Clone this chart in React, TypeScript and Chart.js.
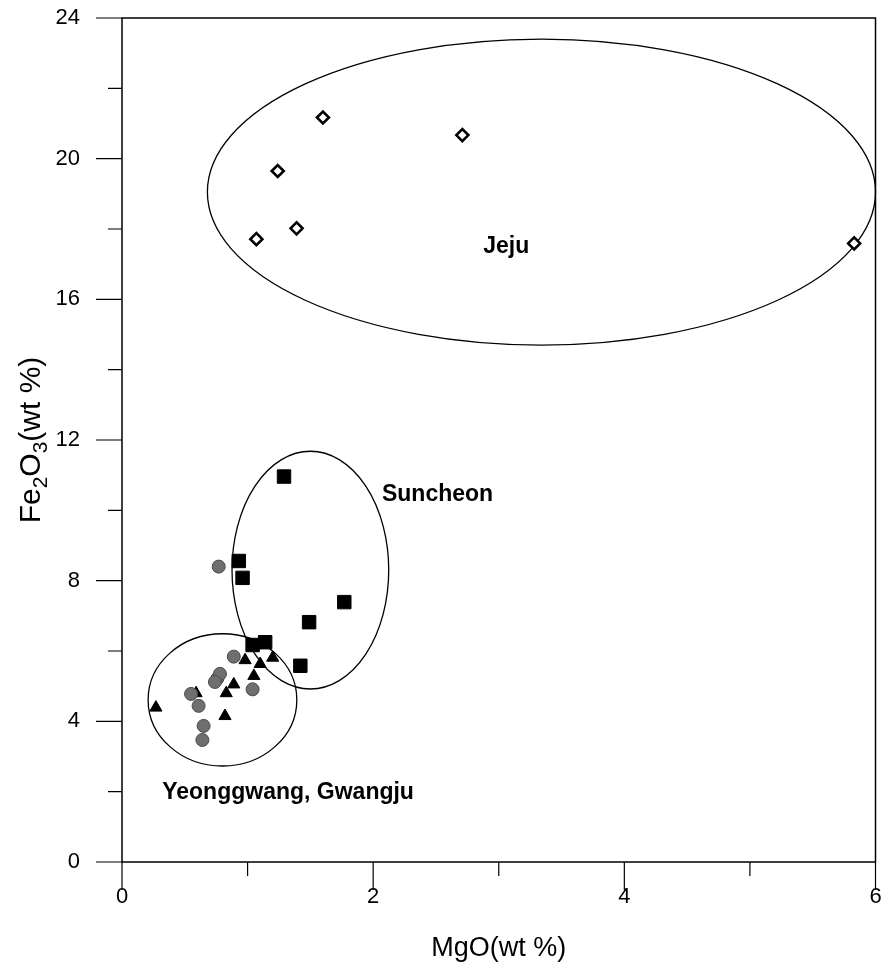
import React, { useEffect, useRef } from 'react';
import { Chart, registerables } from 'chart.js';

Chart.register(...registerables);

// Jeju (open diamonds)
const jejuMgO = [1.60, 2.71, 1.24, 1.39, 1.07, 5.83];
const jejuFe2O3 = [21.17, 20.67, 19.65, 18.02, 17.71, 17.59];
// Suncheon (filled squares)
const suncheonMgO = [1.29, 0.93, 0.96, 1.77, 1.49, 1.04, 1.14, 1.42];
const suncheonFe2O3 = [10.96, 8.56, 8.08, 7.39, 6.82, 6.17, 6.25, 5.58];
// Yeonggwang / Gwangju (grey circles)
const circleMgO = [0.77, 0.89, 0.76, 0.78, 0.74, 1.04, 0.55, 0.61, 0.65, 0.64];
const circleFe2O3 = [8.40, 5.84, 5.22, 5.35, 5.12, 4.91, 4.78, 4.44, 3.87, 3.47];
// Yeonggwang / Gwangju (filled triangles)
const triangleMgO = [0.98, 1.10, 1.20, 1.05, 0.89, 0.83, 0.59, 0.82, 0.27];
const triangleFe2O3 = [5.74, 5.63, 5.81, 5.29, 5.05, 4.80, 4.80, 4.15, 4.39];

// Group ellipses (data units)
const groupNames = ['Jeju', 'Suncheon', 'Yeonggwang, Gwangju'];
const ellipseCenterX = [3.34, 1.50, 0.80];
const ellipseCenterY = [19.05, 8.30, 4.61];
const ellipseRadiusX = [2.66, 0.624, 0.592];
const ellipseRadiusY = [4.35, 3.38, 1.88];
// Group label anchors (data units)
const labelX = [3.06, 2.07, 0.32];
const labelY = [17.49, 10.46, 1.96];
const labelAlign: CanvasTextAlign[] = ['center', 'left', 'left'];

const xTicks = [0, 2, 4, 6];
const yTicks = [0, 4, 8, 12, 16, 20, 24];
const xMinorTicks = [1, 3, 5];
const yMinorTicks = [2, 6, 10, 14, 18, 22];

const FONT = "'Liberation Sans', Arial, sans-serif";

const toPoints = (xs: number[], ys: number[]) => xs.map((x, i) => ({ x, y: ys[i] }));

const zeroPadding = (s: any) => {
  s.paddingTop = 0;
  s.paddingBottom = 0;
  s.paddingLeft = 0;
  s.paddingRight = 0;
};

const decorPlugin = {
  id: 'decor',
  beforeDatasetsDraw(chart: any) {
    const { ctx, scales } = chart;
    const xs = scales.x, ys = scales.y;
    ctx.save();
    ctx.strokeStyle = '#000';
    ctx.lineWidth = 1.3;
    for (let i = 0; i < ellipseCenterX.length; i++) {
      const cx = xs.getPixelForValue(ellipseCenterX[i]);
      const cy = ys.getPixelForValue(ellipseCenterY[i]);
      const rx = Math.abs(xs.getPixelForValue(ellipseCenterX[i] + ellipseRadiusX[i]) - cx);
      const ry = Math.abs(ys.getPixelForValue(ellipseCenterY[i] + ellipseRadiusY[i]) - cy);
      ctx.beginPath();
      ctx.ellipse(cx, cy, rx, ry, 0, 0, Math.PI * 2);
      ctx.stroke();
    }
    ctx.restore();
  },
  afterDraw(chart: any) {
    const { ctx, scales, chartArea } = chart;
    const xs = scales.x, ys = scales.y;
    const { left, right, top, bottom } = chartArea;
    ctx.save();
    ctx.strokeStyle = '#000';
    ctx.lineWidth = 1.5;
    ctx.beginPath();
    ctx.rect(left, top, right - left, bottom - top);
    ctx.stroke();
    ctx.lineWidth = 1.2;
    ctx.beginPath();
    xTicks.forEach((v) => { const p = xs.getPixelForValue(v); ctx.moveTo(p, bottom); ctx.lineTo(p, bottom + 28); });
    xMinorTicks.forEach((v) => { const p = xs.getPixelForValue(v); ctx.moveTo(p, bottom); ctx.lineTo(p, bottom + 14); });
    yTicks.forEach((v) => { const p = ys.getPixelForValue(v); ctx.moveTo(left, p); ctx.lineTo(left - 26, p); });
    yMinorTicks.forEach((v) => { const p = ys.getPixelForValue(v); ctx.moveTo(left, p); ctx.lineTo(left - 14, p); });
    ctx.stroke();

    // group labels
    ctx.fillStyle = '#000';
    ctx.font = `bold 23px ${FONT}`;
    ctx.textBaseline = 'middle';
    groupNames.forEach((name, i) => {
      ctx.textAlign = labelAlign[i];
      ctx.fillText(name, xs.getPixelForValue(labelX[i]), ys.getPixelForValue(labelY[i]));
    });

    // y title with subscripts
    const parts: [string, boolean][] = [['Fe', false], ['2', true], ['O', false], ['3', true], ['(wt %)', false]];
    const big = `30px ${FONT}`, small = `21px ${FONT}`;
    let total = 0;
    parts.forEach(([t, sub]) => { ctx.font = sub ? small : big; total += ctx.measureText(t).width; });
    ctx.translate(30, (top + bottom) / 2);
    ctx.rotate(-Math.PI / 2);
    ctx.textAlign = 'left';
    ctx.textBaseline = 'alphabetic';
    let x = -total / 2;
    parts.forEach(([t, sub]) => {
      ctx.font = sub ? small : big;
      ctx.fillText(t, x, sub ? 17 : 10);
      x += ctx.measureText(t).width;
    });
    ctx.restore();
  },
};

export default function App() {
  const ref = useRef<HTMLCanvasElement | null>(null);
  useEffect(() => {
    if (!ref.current) return;
    const chart = new Chart(ref.current, {
      type: 'scatter',
      data: {
        datasets: [
          {
            label: 'Jeju',
            data: toPoints(jejuMgO, jejuFe2O3),
            pointStyle: 'rectRot',
            pointRadius: 6,
            backgroundColor: '#fff',
            borderColor: '#000',
            borderWidth: 2.6,
          },
          {
            label: 'Suncheon',
            data: toPoints(suncheonMgO, suncheonFe2O3),
            pointStyle: 'rect',
            pointRadius: 9.5,
            backgroundColor: '#000',
            borderColor: '#000',
            borderWidth: 1,
          },
          {
            label: 'Circles',
            data: toPoints(circleMgO, circleFe2O3),
            pointStyle: 'circle',
            pointRadius: 6.5,
            backgroundColor: '#6f6f6f',
            borderColor: '#4a4a4a',
            borderWidth: 1,
          },
          {
            label: 'Triangles',
            data: toPoints(triangleMgO, triangleFe2O3),
            pointStyle: 'triangle',
            pointRadius: 7,
            backgroundColor: '#000',
            borderColor: '#000',
            borderWidth: 1,
          },
        ],
      },
      options: {
        animation: false,
        responsive: true,
        maintainAspectRatio: false,
        layout: { padding: { top: 18, right: 9, left: 0, bottom: 0 } },
        plugins: { legend: { display: false }, tooltip: { enabled: false } },
        scales: {
          x: {
            type: 'linear',
            min: 0,
            max: 6,
            grid: { display: false, drawTicks: false },
            border: { display: false },
            ticks: { stepSize: 2, padding: 22, color: '#000', font: { size: 22, family: FONT } },
            title: { display: true, text: 'MgO(wt %)', color: '#000', font: { size: 27, family: FONT }, padding: { top: 0, bottom: 7 } },
            afterFit: (s: any) => { s.height = 110; zeroPadding(s); },
          },
          y: {
            type: 'linear',
            min: 0,
            max: 24,
            grid: { display: false, drawTicks: false },
            border: { display: false },
            ticks: { stepSize: 4, padding: 42, color: '#000', font: { size: 22, family: FONT } },
            afterFit: (s: any) => { s.width = 122; zeroPadding(s); },
          },
        },
      },
      plugins: [decorPlugin],
    });
    return () => chart.destroy();
  }, []);
  return (
    <div style={{ position: 'absolute', left: 0, top: 0, width: 886, height: 972, background: '#fff' }}>
      <canvas ref={ref} />
    </div>
  );
}
